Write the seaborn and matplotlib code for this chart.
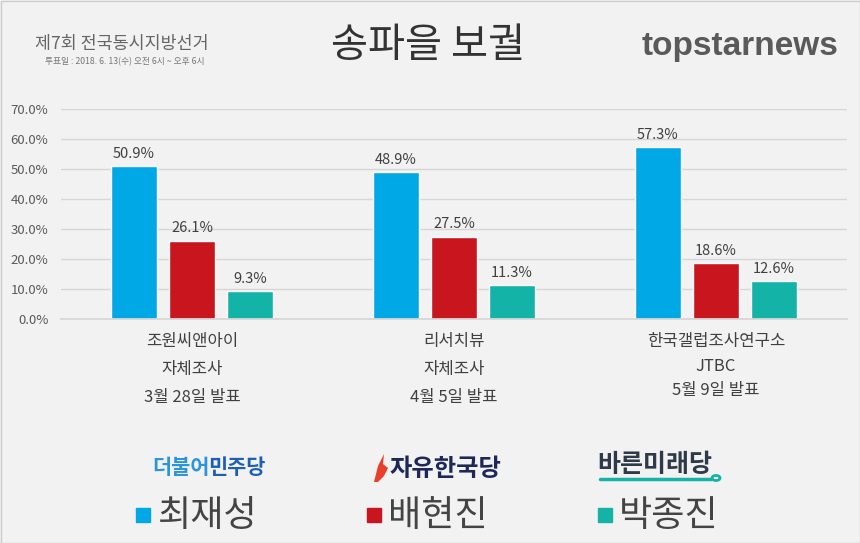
import matplotlib
matplotlib.use("Agg")
import matplotlib.pyplot as plt
import seaborn as sns
import pandas as pd
from matplotlib.patches import Rectangle, Circle, Polygon
from matplotlib.lines import Line2D

# ---- data ----
categories = ["조원씨앤아이\n자체조사\n3월 28일 발표",
              "리서치뷰\n자체조사\n4월 5일 발표",
              "한국갤럽조사연구소\nJTBC\n5월 9일 발표"]
candidates = ["최재성", "배현진", "박종진"]
parties = ["더불어민주당", "자유한국당", "바른미래당"]
choi = [50.9, 48.9, 57.3]
bae = [26.1, 27.5, 18.6]
park = [9.3, 11.3, 12.6]
yticks = [0, 10, 20, 30, 40, 50, 60, 70]
colors = ["#00a8e6", "#c9151e", "#13b3a8"]

rows = []
for i, c in enumerate(categories):
    for name, vals in zip(candidates, [choi, bae, park]):
        rows.append({"cat": c, "cand": name, "val": vals[i]})
df = pd.DataFrame(rows)

sns.set_theme(style="white")
plt.rcParams['font.family'] = ['Noto Sans CJK KR', 'DejaVu Sans']

BG = "#f2f2f2"
fig = plt.figure(figsize=(8.6, 5.43), dpi=100, facecolor=BG)
ax = fig.add_axes([61/860, 1-319/543, (847-61)/860, 210/543])
ax.set_facecolor(BG)

sns.barplot(data=df, x="cat", y="val", hue="cand", order=categories,
            hue_order=candidates, palette=colors, width=0.664, gap=0.2,
            saturation=1, ax=ax, legend=False, errorbar=None)

ax.set_xlim(-0.5, 2.5)
ax.set_ylim(0, 70)
ax.set_yticks(yticks)
ax.set_yticklabels([f"{v:.1f}%" for v in yticks], fontsize=9.5, color="#595959")
ax.grid(axis="y", color="#d6d6d6", linewidth=1)
ax.set_axisbelow(True)
for s in ax.spines.values():
    s.set_visible(False)
ax.spines["bottom"].set_visible(True)
ax.spines["bottom"].set_color("#d6d6d6")
ax.tick_params(axis="y", length=0, pad=9)
ax.tick_params(axis="x", length=0, pad=10)
ax.set_xlabel("")
ax.set_ylabel("")
ax.set_xticks(range(len(categories)))
ax.set_xticklabels(categories, fontsize=12, color="#404040")
for i, t in enumerate(ax.get_xticklabels()):
    t.set_linespacing(1.85 if i < 2 else 1.6)
    t.set_verticalalignment("top")

for cont in ax.containers:
    ax.bar_label(cont, labels=[f"{v:.1f}%" for v in cont.datavalues],
                 padding=4, fontsize=10.5, color="#404040")

# ---- header ----
fig.text(35/860, 1-44/543, "제7회 전국동시지방선거", fontsize=12.5, color="#666666",
         va="center", ha="left")
fig.text(45/860, 1-62/543, "투표일 : 2018. 6. 13(수) 오전 6시 ~ 오후 6시", fontsize=6.3,
         color="#777777", va="center", ha="left")
fig.text(428/860, 1-45/543, "송파을 보궐", fontsize=29, color="#333333",
         va="center", ha="center", fontweight="medium")
fig.text(838/860, 1-46/543, "topstarnews", fontsize=24, color="#5a5a5a",
         va="center", ha="right", fontweight="bold", family="Liberation Sans")

# ---- party logos ----
t1 = fig.text(152/860, 1-468/543, "더불어", fontsize=15, color="#2b95dc",
              va="center", ha="left", fontweight="bold")
fig.canvas.draw()
bb = t1.get_window_extent(fig.canvas.get_renderer())
fig.text(bb.x1/860 - 1/860, 1-468/543, "민주당", fontsize=15, color="#1d5fb3",
         va="center", ha="left", fontweight="bold")

# flame decoration
fx, fy = 372, 470
flame = [(fx+2, fy+12), (fx+6, fy-4), (fx+12, fy-16), (fx+11, fy-6),
         (fx+16, fy-2), (fx+12, fy+6), (fx+6, fy+12)]
fig.add_artist(Polygon([(x/860, 1-y/543) for x, y in flame], closed=True,
                       transform=fig.transFigure, color="#e8402a", lw=0))
fig.text(389/860, 1-469/543, "자유한국당", fontsize=17.5, color="#1e2858",
         va="center", ha="left", fontweight="bold")

fig.text(597/860, 1-465/543, "바른미래당", fontsize=18, color="#2e3a48",
         va="center", ha="left", fontweight="bold")
fig.add_artist(Line2D([600/860, 711/860], [1-479/543, 1-479/543],
                      transform=fig.transFigure, color="#13b3a8", linewidth=2.5))
fig.add_artist(Circle((716/860, 1-478/543), 4/860, transform=fig.transFigure,
                      fill=False, edgecolor="#13b3a8", linewidth=2))

# ---- legend ----
leg_x = [136, 367, 598]
for x, name, col in zip(leg_x, candidates, colors):
    fig.add_artist(Rectangle((x/860, 1-522/543), 14/860, 14/543,
                             transform=fig.transFigure, color=col))
    fig.text((x+21)/860, 1-516/543, name, fontsize=26, color="#444444",
             va="center", ha="left")

fig.add_artist(Rectangle((0.5/860, 0.5/543), 859/860, 542/543, transform=fig.transFigure,
                         fill=False, edgecolor="#cccccc", linewidth=1))

fig.savefig("out.png", dpi=100, facecolor=BG)
